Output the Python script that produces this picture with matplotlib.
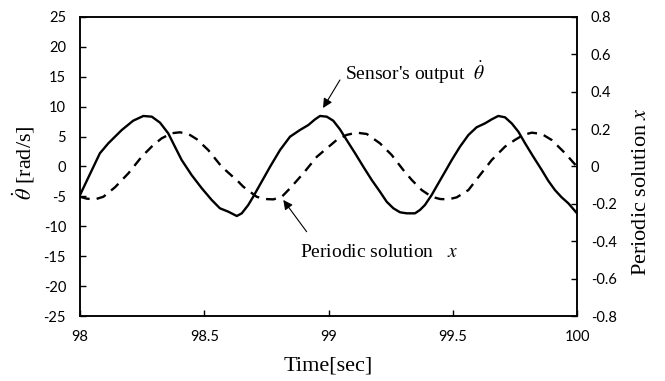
import matplotlib
matplotlib.use('Agg')
import matplotlib.pyplot as plt

plt.rcParams['mathtext.fontset'] = 'stix'

# sensor's output (left axis, rad/s)
t_sensor = [98.000, 98.080, 98.114, 98.168, 98.214, 98.255, 98.289, 98.322, 98.355, 98.382,
            98.409, 98.449, 98.490, 98.530, 98.563, 98.597, 98.631, 98.651, 98.677, 98.697,
            98.731, 98.765, 98.805, 98.845, 98.885, 98.919, 98.946, 98.966, 98.993, 99.019,
            99.046, 99.073, 99.107, 99.140, 99.174, 99.207, 99.234, 99.261, 99.288, 99.315,
            99.348, 99.368, 99.388, 99.415, 99.442, 99.469, 99.496, 99.529, 99.563, 99.596,
            99.630, 99.657, 99.683, 99.710, 99.737, 99.764, 99.791, 99.824, 99.858, 99.884,
            99.911, 99.938, 99.965, 100.0]
theta_dot = [-4.77, 2.21, 3.88, 6.10, 7.66, 8.45, 8.33, 7.33, 5.55, 3.31,
             1.09, -1.42, -3.64, -5.60, -6.99, -7.56, -8.28, -7.83, -6.44, -5.05,
             -2.54, -0.03, 2.76, 4.98, 6.10, 6.94, 7.89, 8.45, 8.33, 7.66,
             6.22, 4.43, 2.21, -0.03, -2.26, -4.21, -5.89, -6.99, -7.66, -7.83,
             -7.83, -7.27, -6.44, -4.77, -2.81, -0.87, 1.09, 3.31, 5.27, 6.56,
             7.22, 7.89, 8.45, 8.23, 7.22, 5.82, 3.88, 1.64, -0.58, -2.37,
             -3.93, -5.15, -6.15, -7.83]

# periodic solution (right axis)
t_periodic = [98.000, 98.027, 98.060, 98.094, 98.141, 98.195, 98.248, 98.295, 98.329, 98.369,
              98.402, 98.436, 98.470, 98.516, 98.570, 98.637, 98.657, 98.711, 98.744, 98.778,
              98.812, 98.845, 98.899, 98.953, 99.033, 99.073, 99.113, 99.154, 99.207, 99.254,
              99.301, 99.335, 99.375, 99.415, 99.449, 99.482, 99.516, 99.563, 99.610, 99.657,
              99.710, 99.750, 99.784, 99.818, 99.858, 99.898, 99.952, 100.0]
x_periodic = [-0.162, -0.172, -0.176, -0.162, -0.111, -0.036, 0.052, 0.115, 0.151, 0.178,
              0.183, 0.174, 0.146, 0.088, -0.001, -0.081, -0.108, -0.162, -0.174, -0.176,
              -0.162, -0.117, -0.036, 0.052, 0.142, 0.169, 0.181, 0.174, 0.124, 0.062,
              -0.019, -0.072, -0.126, -0.162, -0.174, -0.176, -0.165, -0.126, -0.045, 0.035,
              0.106, 0.142, 0.169, 0.181, 0.174, 0.142, 0.071, -0.001]

xticks = [98, 98.5, 99, 99.5, 100]
xtick_labels = ['98', '98.5', '99', '99.5', '100']
left_ticks = [-25, -20, -15, -10, -5, 0, 5, 10, 15, 20, 25]
right_ticks = [-0.8, -0.6, -0.4, -0.2, 0, 0.2, 0.4, 0.6, 0.8]
right_labels = ['-0.8', '-0.6', '-0.4', '-0.2', '0', '0.2', '0.4', '0.6', '0.8']

tick_font = {'family': 'Lato', 'size': 10.5}
serif = 'Liberation Serif'

fig = plt.figure(figsize=(6.65, 3.81), dpi=100)
ax = fig.add_axes([0.1203, 0.1706, 0.7474, 0.7848])
ax2 = ax.twinx()

ax.plot(t_sensor, theta_dot, color='black', lw=1.7, solid_joinstyle='round')
ax2.plot(t_periodic, x_periodic, color='black', lw=1.7, dashes=(4.2, 3.0))

ax.set_xlim(98, 100)
ax.set_ylim(-25, 25)
ax2.set_ylim(-0.8, 0.8)

ax.set_xticks(xticks)
ax.set_xticklabels(xtick_labels, fontdict=tick_font)
ax.set_yticks(left_ticks)
ax.set_yticklabels([str(v) for v in left_ticks], fontdict=tick_font)
ax2.set_yticks(right_ticks)
ax2.set_yticklabels(right_labels, fontdict=tick_font)

for a in (ax, ax2):
    a.tick_params(direction='in', length=4, width=1.0, pad=10)
    for s in a.spines.values():
        s.set_linewidth(1.1)

ax.set_xlabel('Time[sec]', family=serif, fontsize=16, labelpad=9)
ax.set_ylabel(r'$\dot{\theta}$ [rad/s]', family=serif, fontsize=16)
ax.yaxis.set_label_coords(-0.087, 0.513)
ax2.set_ylabel(r'Periodic solution $x$', family=serif, fontsize=16)
ax2.yaxis.set_label_coords(1.111, 0.415)

ax.annotate('', xy=(98.978, 9.78), xytext=(99.046, 14.47),
            arrowprops=dict(arrowstyle='-|>', color='black', lw=0.8,
                            mutation_scale=14, shrinkA=0, shrinkB=0))
ax.text(99.066, 14.47, r"Sensor's output  $\dot{\theta}$", family=serif, fontsize=14,
        va='baseline', ha='left')

ax2.annotate('', xy=(98.818, -0.179), xytext=(98.912, -0.349),
             arrowprops=dict(arrowstyle='-|>', color='black', lw=0.8,
                             mutation_scale=14, shrinkA=0, shrinkB=0))
ax2.text(98.885, -0.483, r'Periodic solution   $x$', family=serif, fontsize=14,
         va='baseline', ha='left')

fig.savefig('out.png', dpi=100)
